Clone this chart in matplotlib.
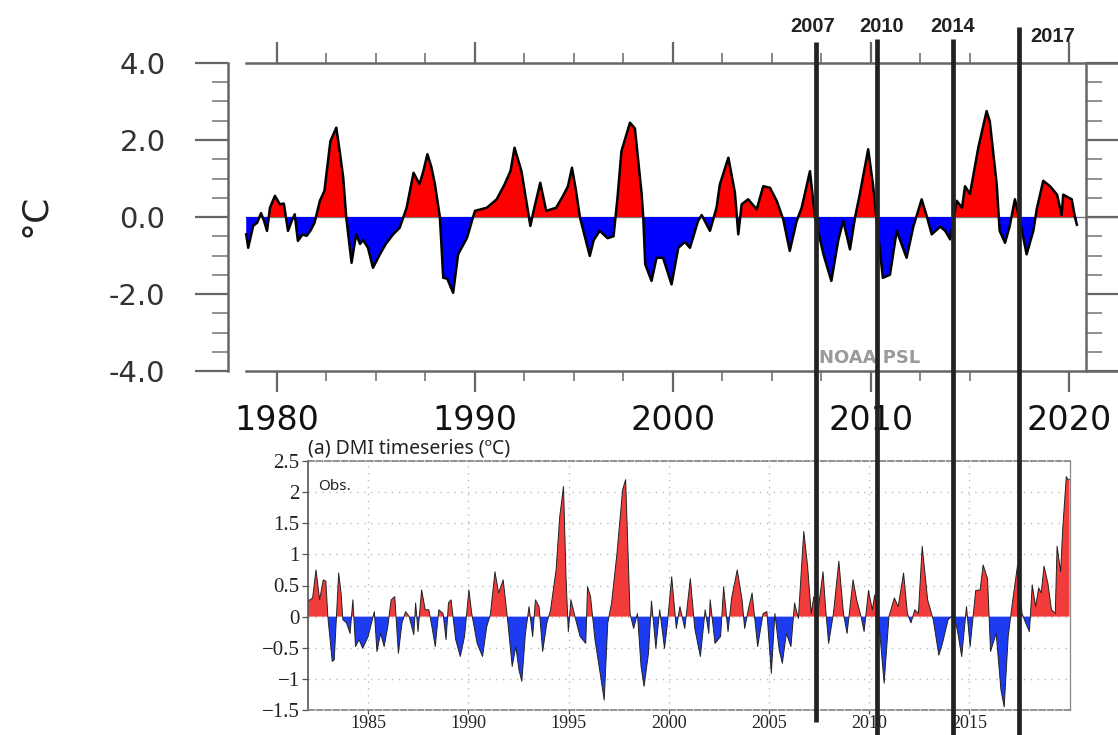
import numpy as np
import matplotlib.pyplot as plt
from matplotlib.ticker import MultipleLocator

# Panel superior: indice ENSO (NOAA PSL)
oni_years = [1978.45, 1978.55, 1978.8, 1979.0, 1979.2, 1979.35, 1979.5, 1979.65, 1979.9,
             1980.15, 1980.35, 1980.56, 1980.75, 1980.9, 1981.06, 1981.3, 1981.5, 1981.7,
             1981.9, 1982.17, 1982.4, 1982.7, 1983.0, 1983.2, 1983.35, 1983.5, 1983.77,
             1984.0, 1984.2, 1984.35, 1984.6, 1984.85, 1985.2, 1985.5, 1985.87, 1986.2,
             1986.55, 1986.9, 1987.05, 1987.2, 1987.4, 1987.6, 1987.8, 1987.98, 1988.23,
             1988.4, 1988.6, 1988.9, 1989.15, 1989.6, 1990.0, 1990.3, 1990.6, 1991.1,
             1991.5, 1991.8, 1992.0, 1992.35, 1992.6, 1992.8, 1993.0, 1993.3, 1993.6,
             1994.1, 1994.45, 1994.7, 1994.9, 1995.1, 1995.3, 1995.8, 1996.0, 1996.3,
             1996.7, 1997.0, 1997.2, 1997.4, 1997.83, 1998.08, 1998.42, 1998.5, 1998.6,
             1998.92, 1999.17, 1999.5, 1999.93, 2000.27, 2000.6, 2000.86, 2001.27, 2001.45,
             2001.87, 2002.2, 2002.37, 2002.8, 2003.13, 2003.3, 2003.47, 2003.8, 2004.23,
             2004.56, 2004.9, 2005.24, 2005.57, 2005.9, 2006.25, 2006.5, 2006.92, 2007.17,
             2007.6, 2008.0, 2008.35, 2008.6, 2008.94, 2009.2, 2009.44, 2009.86, 2010.1,
             2010.27, 2010.6, 2010.96, 2011.3, 2011.8, 2012.14, 2012.56, 2012.8, 2013.07,
             2013.5, 2013.75, 2014.0, 2014.33, 2014.6, 2014.75, 2015.0, 2015.42, 2015.84,
             2016.0, 2016.35, 2016.5, 2016.77, 2017.0, 2017.27, 2017.53, 2017.86, 2018.2,
             2018.37, 2018.7, 2019.04, 2019.4, 2019.63, 2019.71, 2020.14, 2020.3, 2020.4]
oni_vals = [-0.45, -0.8, -0.23, -0.15, 0.1, -0.1, -0.36, 0.24, 0.55,
            0.33, 0.35, -0.36, -0.1, 0.07, -0.62, -0.45, -0.49, -0.35,
            -0.15, 0.42, 0.68, 1.97, 2.32, 1.6, 1.02, 0.0, -1.19,
            -0.45, -0.7, -0.6, -0.8, -1.32, -0.97, -0.7, -0.45, -0.28,
            0.24, 1.15, 1.0, 0.85, 1.2, 1.63, 1.3, 0.85, 0.0,
            -1.58, -1.6, -1.97, -0.97, -0.54, 0.16, 0.2, 0.24, 0.46,
            0.85, 1.2, 1.8, 1.19, 0.4, -0.23, 0.24, 0.89, 0.16,
            0.24, 0.55, 0.8, 1.28, 0.7, 0.0, -1.01, -0.6, -0.36,
            -0.55, -0.5, 0.5, 1.71, 2.45, 2.3, 0.6, 0.0, -1.23,
            -1.66, -1.06, -1.06, -1.75, -0.8, -0.65, -0.8, -0.1, 0.05,
            -0.36, 0.24, 0.85, 1.54, 0.63, -0.45, 0.33, 0.46, 0.2,
            0.8, 0.76, 0.42, -0.06, -0.88, -0.1, 0.24, 1.19, 0.0,
            -0.97, -1.66, -0.6, -0.1, -0.84, 0.0, 0.6, 1.76, 0.85,
            0.0, -1.58, -1.5, -0.36, -1.06, -0.25, 0.46, 0.05, -0.45,
            -0.25, -0.36, -0.58, 0.42, 0.24, 0.8, 0.6, 1.8, 2.75,
            2.49, 0.85, -0.36, -0.67, -0.25, 0.46, -0.1, -0.97, -0.36,
            0.2, 0.94, 0.8, 0.58, 0.05, 0.58, 0.46, 0.0, -0.2]

# Panel inferior: DMI observado
dmi_years = [1982.0, 1982.23, 1982.4, 1982.58, 1982.76, 1982.89, 1982.99, 1983.21, 1983.31,
             1983.53, 1983.65, 1983.74, 1983.92, 1984.1, 1984.24, 1984.37, 1984.55, 1984.73,
             1985.0, 1985.17, 1985.31, 1985.44, 1985.62, 1985.8, 1985.98, 1986.15, 1986.33,
             1986.51, 1986.69, 1986.87, 1987.05, 1987.28, 1987.37, 1987.49, 1987.67, 1987.85,
             1988.03, 1988.21, 1988.35, 1988.53, 1988.74, 1988.89, 1989.01, 1989.14, 1989.37,
             1989.6, 1989.81, 1990.03, 1990.17, 1990.44, 1990.71, 1990.92, 1991.1, 1991.33,
             1991.51, 1991.74, 1991.96, 1992.19, 1992.37, 1992.53, 1992.67, 1992.85, 1993.03,
             1993.21, 1993.35, 1993.53, 1993.71, 1993.92, 1994.1, 1994.38, 1994.56, 1994.75,
             1994.88, 1994.99, 1995.12, 1995.4, 1995.58, 1995.86, 1995.95, 1996.1, 1996.32,
             1996.59, 1996.78, 1996.96, 1997.15, 1997.42, 1997.7, 1997.85, 1998.07, 1998.25,
             1998.44, 1998.62, 1998.77, 1998.99, 1999.14, 1999.36, 1999.55, 1999.79, 1999.92,
             2000.15, 2000.38, 2000.56, 2000.8, 2001.08, 2001.3, 2001.58, 2001.82, 2002.0,
             2002.07, 2002.31, 2002.59, 2002.74, 2002.96, 2003.14, 2003.42, 2003.66, 2003.79,
             2003.97, 2004.16, 2004.44, 2004.71, 2004.9, 2005.12, 2005.3, 2005.51, 2005.67,
             2005.87, 2006.1, 2006.28, 2006.47, 2006.74, 2006.93, 2007.11, 2007.24, 2007.48,
             2007.7, 2007.85, 2007.98, 2008.22, 2008.49, 2008.72, 2008.9, 2009.2, 2009.38,
             2009.6, 2009.75, 2009.97, 2010.16, 2010.28, 2010.49, 2010.75, 2010.99, 2011.26,
             2011.45, 2011.72, 2011.91, 2012.09, 2012.28, 2012.46, 2012.65, 2012.92, 2013.2,
             2013.48, 2013.66, 2013.94, 2014.21, 2014.4, 2014.62, 2014.86, 2015.04, 2015.32,
             2015.54, 2015.69, 2015.91, 2016.06, 2016.34, 2016.58, 2016.74, 2016.94, 2017.17,
             2017.41, 2017.63, 2017.81, 2018.0, 2018.14, 2018.31, 2018.46, 2018.59, 2018.73,
             2018.92, 2019.1, 2019.29, 2019.38, 2019.56, 2019.66, 2019.84, 2019.93, 2020.0]
dmi_vals = [0.25, 0.30, 0.75, 0.27, 0.59, 0.57, 0.0, -0.72, -0.69,
            0.70, 0.38, -0.05, -0.10, -0.27, 0.27, -0.48, -0.37, -0.51,
            -0.32, -0.10, 0.08, -0.56, -0.27, -0.48, -0.16, 0.27, 0.32,
            -0.59, -0.10, 0.08, 0.0, -0.29, 0.22, -0.24, 0.43, 0.11,
            0.11, -0.21, -0.48, 0.11, 0.05, -0.37, 0.22, 0.27, -0.37,
            -0.64, -0.32, 0.43, 0.05, -0.43, -0.64, -0.16, 0.03, 0.72,
            0.38, 0.59, -0.05, -0.80, -0.48, -0.86, -1.04, -0.27, 0.16,
            -0.32, 0.27, 0.16, -0.56, -0.10, 0.10, 0.75, 1.60, 2.09,
            0.59, -0.24, 0.27, -0.10, -0.32, -0.43, 0.48, 0.32, -0.37,
            -0.93, -1.34, -0.10, 0.22, 1.02, 2.04, 2.20, 0.05, -0.19,
            0.05, -0.80, -1.12, -0.59, 0.25, -0.51, 0.11, -0.51, -0.16,
            0.64, -0.19, 0.16, -0.19, 0.61, -0.19, -0.64, 0.11, -0.27,
            0.27, -0.43, -0.32, 0.48, -0.24, 0.30, 0.75, 0.27, -0.19,
            0.11, 0.38, -0.48, 0.05, 0.08, -0.91, 0.05, -0.53, -0.75,
            -0.27, -0.48, 0.22, -0.03, 1.37, 0.81, 0.05, 0.32, 0.16,
            0.72, 0.05, -0.43, 0.05, 0.89, 0.05, -0.27, 0.59, 0.27,
            0.0, -0.24, 0.42, 0.11, 0.35, -0.10, -1.07, 0.0, 0.30,
            0.16, 0.70, 0.05, -0.10, 0.11, 0.05, 1.13, 0.27, -0.05,
            -0.62, -0.43, -0.05, 0.03, -0.21, -0.64, 0.16, -0.48, 0.42,
            0.43, 0.83, 0.61, -0.56, -0.27, -1.18, -1.45, -0.32, 0.27,
            0.83, 0.05, -0.10, -0.24, 0.51, 0.16, 0.46, 0.38, 0.81,
            0.54, 0.11, 0.05, 1.13, 0.72, 1.40, 2.25, 2.20, 2.20]

top_xticks = [1980, 1990, 2000, 2010, 2020]
top_yticks = [-4, -2, 0, 2, 4]
top_ylabels = ['-4.0', '-2.0', '0.0', '2.0', '4.0']
bot_xticks = [1985, 1990, 1995, 2000, 2005, 2010, 2015]
bot_yticks = [-1.5, -1, -0.5, 0, 0.5, 1, 1.5, 2, 2.5]
bot_ylabels = ['\u22121.5', '\u22121', '\u22120.5', '0', '0.5', '1', '1.5', '2', '2.5']

mark_labels = ['2007', '2010', '2014', '2017']
mark_pos = [2007.35, 2010.4, 2014.2, 2017.5]

W, H = 1118, 735
fig = plt.figure(figsize=(W / 100, H / 100), dpi=100)

# ---------- panel superior ----------
ax1 = fig.add_axes([228 / W, 1 - 371 / H, (1086 - 228) / W, (371 - 63) / H])
x1 = np.array(oni_years)
y1 = np.array(oni_vals)
ax1.fill_between(x1, y1, 0, where=y1 >= 0, interpolate=True, color='#ff0000', lw=0)
ax1.fill_between(x1, y1, 0, where=y1 <= 0, interpolate=True, color='#0000ff', lw=0)
ax1.plot(x1, y1, color='k', lw=1.8)
ax1.axhline(0, xmin=0.021, xmax=1.037, color='#777777', lw=1.0, clip_on=False, zorder=0)
ax1.set_xlim(1977.53, 2020.86)
ax1.set_ylim(-4, 4)
ax1.set_xticks(top_xticks)
ax1.xaxis.set_minor_locator(MultipleLocator(2.5))
ax1.set_yticks(top_yticks)
ax1.set_yticklabels(top_ylabels)
ax1.yaxis.set_minor_locator(MultipleLocator(0.5))
gris = '#666666'
ax1.tick_params(axis='x', which='major', direction='out', length=15, width=1.6, color=gris,
                top=True, bottom=True, labelsize=24, pad=9, labelcolor='#111111')
ax1.tick_params(axis='x', which='minor', direction='out', length=7.5, width=1.4, color='#888888',
                top=True, bottom=True)
ax1.tick_params(axis='y', which='major', direction='out', length=24, width=1.6, color=gris,
                left=True, right=True, labelsize=21, pad=21, labelcolor='#333333')
ax1.tick_params(axis='y', which='minor', direction='out', length=11.5, width=1.3, color='#888888',
                left=True, right=True)
for s in ['left', 'right']:
    ax1.spines[s].set_color(gris)
    ax1.spines[s].set_linewidth(1.8)
for s in ['top', 'bottom']:
    ax1.spines[s].set_color(gris)
    ax1.spines[s].set_linewidth(1.8)
    ax1.spines[s].set_bounds(1978.45, 2022.5)
ax1.text(0.748, 0.042, 'NOAA PSL', transform=ax1.transAxes, ha='center', va='center',
         fontsize=13, fontweight='bold', color='#9a9a9a')
fig.text(35 / W, 1 - 215 / H, '°C', rotation=90, ha='center', va='center', fontsize=26,
         color='#222222')

# ---------- panel inferior ----------
ax2 = fig.add_axes([308 / W, 1 - 710 / H, 761.5 / W, 249 / H])
x2 = np.array(dmi_years)
y2 = np.array(dmi_vals)
ax2.fill_between(x2, y2, 0, where=y2 >= 0, interpolate=True, color='#f23b3b', lw=0)
ax2.fill_between(x2, y2, 0, where=y2 <= 0, interpolate=True, color='#1d3cf2', lw=0)
ax2.plot(x2, y2, color='#222222', lw=0.7)
ax2.set_xlim(1982, 2020)
ax2.set_ylim(-1.5, 2.5)
ax2.set_xticks(bot_xticks)
ax2.set_yticks(bot_yticks)
ax2.set_yticklabels(bot_ylabels)
ax2.grid(True, color='#bbbbbb', linestyle=(0, (1, 4)), lw=1.0)
ax2.set_axisbelow(True)
ax2.tick_params(axis='y', direction='out', length=4, width=0.9, color='#555555',
                labelsize=15, pad=2, labelcolor='#222222')
ax2.tick_params(axis='x', direction='out', length=3, width=0.9, color='#555555',
                labelsize=13, pad=0.5, labelcolor='#222222')
for lab in ax2.get_xticklabels() + ax2.get_yticklabels():
    lab.set_family('Liberation Serif')
ax2.spines['left'].set_color('#555555')
ax2.spines['left'].set_linewidth(1.2)
ax2.spines['right'].set_color('#888888')
ax2.spines['right'].set_linewidth(0.9)
for s in ['top', 'bottom']:
    ax2.spines[s].set_color('#777777')
    ax2.spines[s].set_linewidth(1.1)
    ax2.spines[s].set_linestyle((0, (4, 1.5)))
ax2.text(0.0, 1.01, '(a) DMI timeseries (ºC)', transform=ax2.transAxes, ha='left', va='bottom',
         fontsize=14, family='Noto Sans', color='#222222')
ax2.text(0.013, 0.896, 'Obs.', transform=ax2.transAxes, ha='left', va='center',
         fontsize=11, family='Noto Sans', color='#222222')

# ---------- lineas verticales de los anios marcados ----------
ov = fig.add_axes([0, 0, 1, 1], zorder=10)
ov.set_xlim(1966.55, 2022.45)
ov.set_ylim(H, 0)
ov.axis('off')
ov.patch.set_alpha(0)
tops = [42, 39, 39, 27]
bottoms = [722, 735, 735, 735]
dx = [-0.15, 0.25, 0.0, 1.7]
ty = [26, 26, 26, 36]
for lab, xp, t, b, d, yy in zip(mark_labels, mark_pos, tops, bottoms, dx, ty):
    ov.plot([xp, xp], [t, b], color='#222222', lw=3.4, solid_capstyle='butt')
    ov.text(xp + d, yy, lab, ha='center', va='center', fontsize=14.5, fontweight='bold',
            family='Liberation Sans', color='#222222')

fig.savefig('out.png', dpi=100, facecolor='white')
